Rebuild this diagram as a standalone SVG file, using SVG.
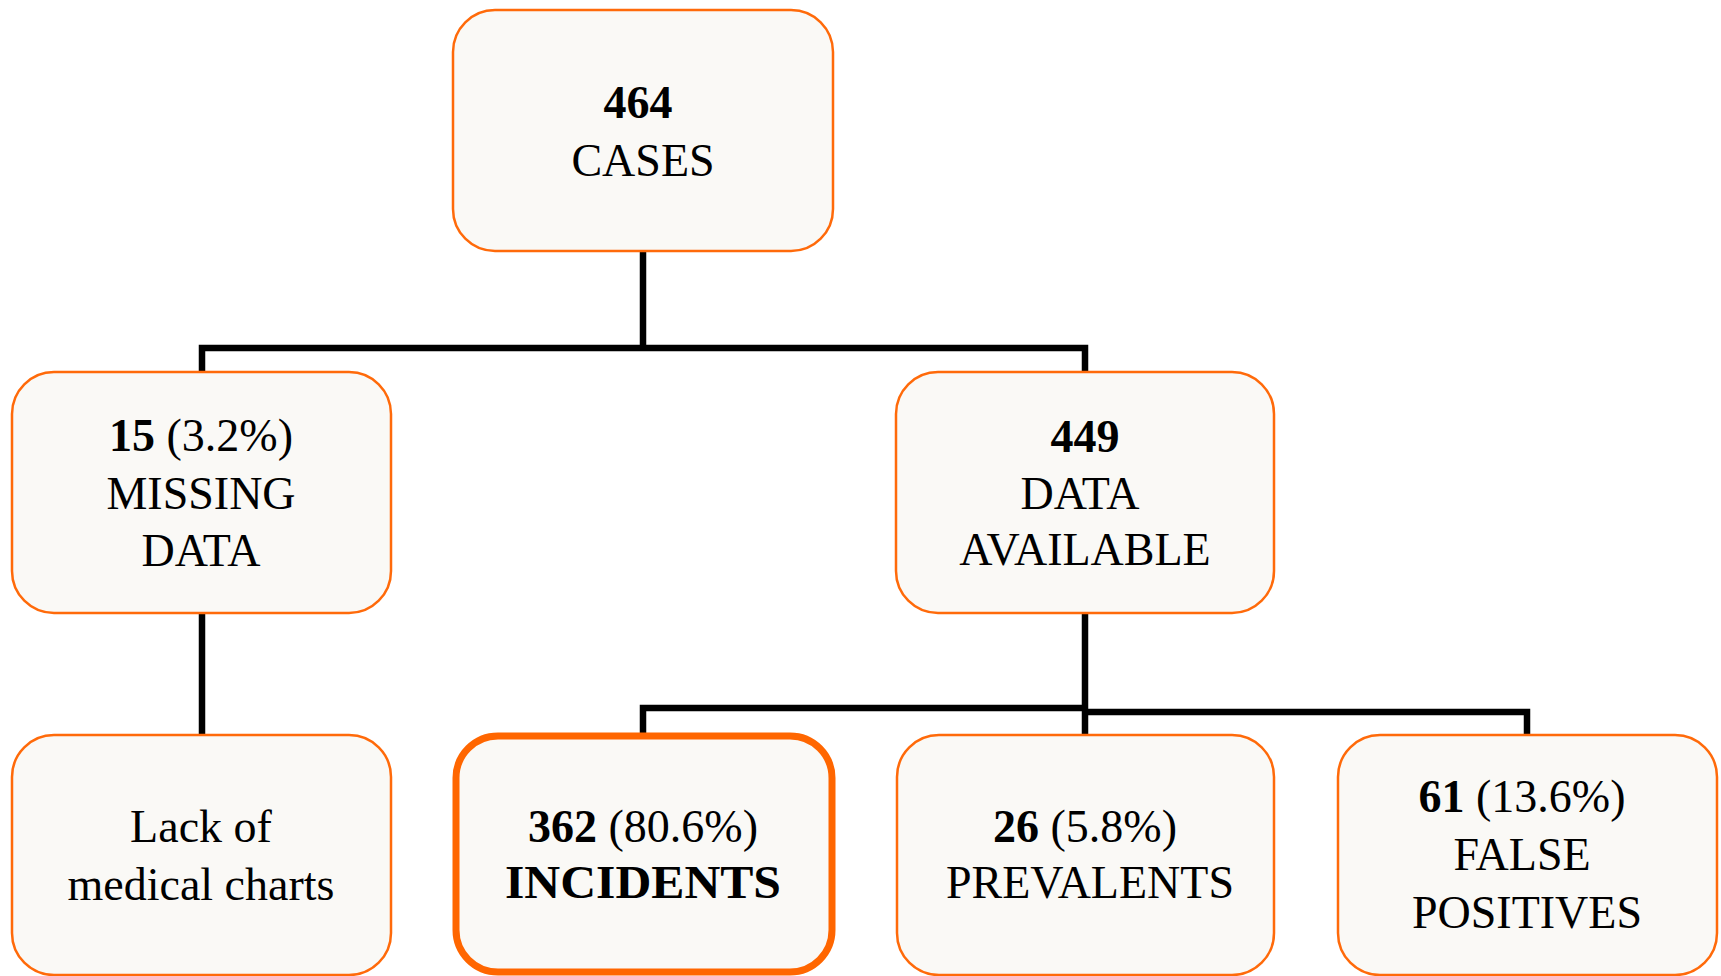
<svg xmlns="http://www.w3.org/2000/svg" width="1721" height="976" viewBox="0 0 1721 976">
<style>
.box{fill:#FAF9F6;stroke:#FF6A0A;stroke-width:2.5}
.hl{fill:#FAF9F6;stroke:#FF6600;stroke-width:7}
.t{font-family:"Liberation Serif",serif;font-size:46px;fill:#000;text-anchor:middle}
.b{font-weight:bold}
.c{fill:none;stroke:#000;stroke-width:6.5}
</style>
<rect width="1721" height="976" fill="#fff"/>
<g id="connectors">
<polyline class="c" points="643,251 643,348"/>
<polyline class="c" points="202,372 202,348 1085,348 1085,372"/>
<polyline class="c" points="202,613 202,735"/>
<polyline class="c" points="1085,613 1085,735"/>
<polyline class="c" points="643,733 643,708 1085,708"/>
<polyline class="c" points="1085,712 1527,712 1527,735"/>
</g>
<g id="cases">
<rect class="box" x="453" y="10" width="380" height="241" rx="42"/>
<text class="t" x="638" y="118"><tspan class="b">464</tspan></text>
<text class="t" x="643" y="176">CASES</text>
</g>
<g id="missing">
<rect class="box" x="12" y="372" width="379" height="241" rx="42"/>
<text class="t" x="201" y="451"><tspan class="b">15</tspan> (3.2%)</text>
<text class="t" x="201" y="509">MISSING</text>
<text class="t" x="201" y="566">DATA</text>
</g>
<g id="available">
<rect class="box" x="896" y="372" width="378" height="241" rx="42"/>
<text class="t" x="1085" y="452"><tspan class="b">449</tspan></text>
<text class="t" x="1080" y="509">DATA</text>
<text class="t" x="1085" y="565">AVAILABLE</text>
</g>
<g id="lack">
<rect class="box" x="12" y="735" width="379" height="240" rx="42"/>
<text class="t" x="201" y="842">Lack of</text>
<text class="t" x="201" y="900">medical charts</text>
</g>
<g id="incidents">
<rect class="hl" x="456" y="736" width="376" height="236" rx="42"/>
<text class="t" x="643" y="842"><tspan class="b">362</tspan> (80.6%)</text>
<text class="t b" x="643" y="898" textLength="276" lengthAdjust="spacingAndGlyphs">INCIDENTS</text>
</g>
<g id="prevalents">
<rect class="box" x="897" y="735" width="377" height="240" rx="42"/>
<text class="t" x="1085" y="842"><tspan class="b">26</tspan> (5.8%)</text>
<text class="t" x="1090" y="898">PREVALENTS</text>
</g>
<g id="falsepos">
<rect class="box" x="1338" y="735" width="379" height="240" rx="42"/>
<text class="t" x="1522" y="812"><tspan class="b">61</tspan> (13.6%)</text>
<text class="t" x="1522" y="870">FALSE</text>
<text class="t" x="1527" y="928">POSITIVES</text>
</g>
</svg>
